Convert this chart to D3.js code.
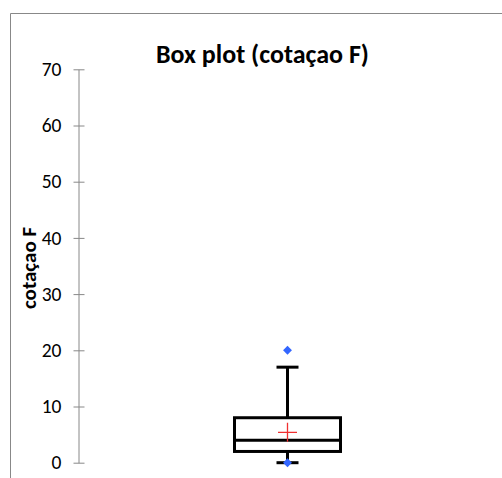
<!DOCTYPE html>
<html><head><meta charset="utf-8">
<script src="https://cdn.jsdelivr.net/npm/d3@7"></script>
<style>body{margin:0;background:#fff}svg{display:block}</style>
</head><body>
<script>
const title = "Box plot (cotaçao F)";
const yLabel = "cotaçao F";
const yTicks = [0, 10, 20, 30, 40, 50, 60, 70];
const boxStats = [{min: 0, q1: 2, median: 4, q3: 8, max: 17, mean: 5.4}];
const outliers = [20, 0];

const W = 502, H = 478;
const svg = d3.select("body").append("svg").attr("width", W).attr("height", H);
const font = "Carlito, Calibri, Lato, sans-serif";

// frame
svg.append("path").attr("d", `M10.5,${H} V13.5 H${W}`).attr("fill", "none").attr("stroke", "#888").attr("stroke-width", 1);

const y = d3.scaleLinear().domain([0, 70]).range([462.7, 69.3]);
const x = d3.scaleBand().domain(["F"]).range([182, 393]).padding(0);

const axisX = 78.5;
const ax = svg.append("g").attr("transform", `translate(${axisX},0)`)
  .call(d3.axisLeft(y).tickValues(yTicks).tickSize(0).tickPadding(17));
ax.select(".domain").attr("stroke", "#888");
ax.selectAll(".tick text").attr("font-family", font).attr("font-size", 19.5).attr("fill", "#000");
ax.selectAll(".tick").append("line").attr("x1", -5).attr("x2", 6).attr("stroke", "#888");

svg.append("text").attr("x", 262.5).attr("y", 63).attr("text-anchor", "middle")
  .attr("font-family", font).attr("font-weight", "bold").attr("font-size", 26).text(title);
svg.append("text").attr("transform", `translate(35.5,268) rotate(-90)`).attr("text-anchor", "middle")
  .attr("font-family", font).attr("font-weight", "bold").attr("font-size", 21).text(yLabel);

const g = svg.append("g");
boxStats.forEach(s => {
  const cx = x("F") + x.bandwidth() / 2;
  const bw = 106, cw = 22;
  const st = {stroke: "#000", "stroke-width": 3, fill: "none"};
  const L = (x1, y1, x2, y2) => { const l = g.append("line").attr("x1", x1).attr("y1", y1).attr("x2", x2).attr("y2", y2); Object.entries(st).forEach(([k, v]) => l.attr(k, v)); };
  L(cx, y(s.q3), cx, y(s.max));
  L(cx - cw / 2, y(s.max), cx + cw / 2, y(s.max));
  L(cx, y(s.q1), cx, y(s.min));
  L(cx - cw / 2, y(s.min), cx + cw / 2, y(s.min));
  const r = g.append("rect").attr("x", cx - bw / 2).attr("y", y(s.q3)).attr("width", bw).attr("height", y(s.q1) - y(s.q3));
  Object.entries(st).forEach(([k, v]) => r.attr(k, v));
  L(cx - bw / 2, y(s.median), cx + bw / 2, y(s.median));
  g.append("path").attr("d", `M${cx - 9.5},${y(s.mean)}H${cx + 9.5}M${cx},${y(s.mean) - 9.5}V${y(s.mean) + 9.5}`)
    .attr("stroke", "#f03030").attr("stroke-width", 1.3).attr("fill", "none");
  g.selectAll(".out").data(outliers).enter().append("path")
    .attr("d", d3.symbol(d3.symbolDiamond2, 50)())
    .attr("transform", d => `translate(${cx},${y(d)})`).attr("fill", "#3366ff");
});
</script>
</body></html>
